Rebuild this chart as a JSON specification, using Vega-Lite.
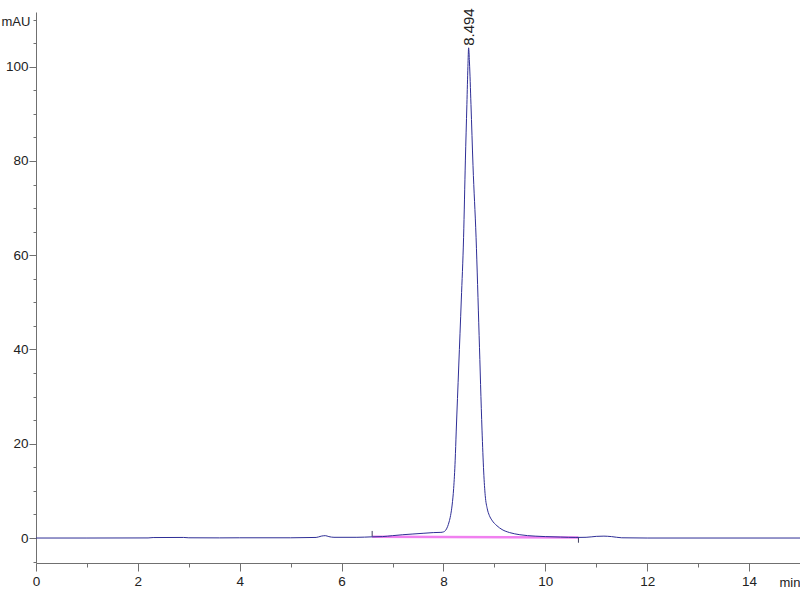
{
  "$schema": "https://vega.github.io/schema/vega-lite/v6.json",
  "width": 764,
  "height": 551,
  "autosize": "none",
  "padding": {"left": 36, "top": 12, "right": 0, "bottom": 37},
  "background": "white",
  "config": {
    "view": {"stroke": null},
    "font": "Liberation Sans, Arial",
    "axis": {
      "grid": false,
      "domainColor": "#707070",
      "tickColor": "#707070",
      "labelColor": "#222222",
      "titleColor": "#222222",
      "labelFont": "Liberation Sans, Arial",
      "titleFont": "Liberation Sans, Arial",
      "labelFontSize": 13.5,
      "titleFontSize": 13,
      "titleFontWeight": "normal"
    }
  },
  "datasets": {
    "trace": [
      {"t": 0, "v": 0}, {"t": 1, "v": 0}, {"t": 2.2, "v": 0.02}, {"t": 2.3, "v": 0.1},
      {"t": 2.9, "v": 0.12}, {"t": 3.0, "v": 0.05}, {"t": 3.6, "v": 0.03}, {"t": 4.0, "v": 0.05},
      {"t": 5.0, "v": 0.05}, {"t": 5.5, "v": 0.12}, {"t": 5.6, "v": 0.4}, {"t": 5.68, "v": 0.5},
      {"t": 5.75, "v": 0.3}, {"t": 5.85, "v": 0.15}, {"t": 6.3, "v": 0.15}, {"t": 6.6, "v": 0.25},
      {"t": 6.8, "v": 0.3}, {"t": 7.0, "v": 0.5}, {"t": 7.2, "v": 0.7}, {"t": 7.4, "v": 0.85},
      {"t": 7.6, "v": 1.0}, {"t": 7.8, "v": 1.15}, {"t": 7.95, "v": 1.2}, {"t": 8.0, "v": 1.3},
      {"t": 8.04, "v": 1.6}, {"t": 8.08, "v": 2.4}, {"t": 8.11, "v": 3.4}, {"t": 8.14, "v": 4.8},
      {"t": 8.17, "v": 7.0}, {"t": 8.2, "v": 10.5}, {"t": 8.23, "v": 16.5}, {"t": 8.25, "v": 22.5},
      {"t": 8.3, "v": 36.5}, {"t": 8.35, "v": 50.5}, {"t": 8.395, "v": 63.8}, {"t": 8.43, "v": 80},
      {"t": 8.46, "v": 92}, {"t": 8.48, "v": 100}, {"t": 8.494, "v": 104}, {"t": 8.51, "v": 101},
      {"t": 8.54, "v": 92}, {"t": 8.58, "v": 79}, {"t": 8.64, "v": 63.8}, {"t": 8.7, "v": 43},
      {"t": 8.757, "v": 22.9}, {"t": 8.79, "v": 14}, {"t": 8.82, "v": 9}, {"t": 8.86, "v": 6.2},
      {"t": 8.9, "v": 4.8}, {"t": 8.95, "v": 3.8}, {"t": 9.05, "v": 2.6}, {"t": 9.15, "v": 1.8},
      {"t": 9.3, "v": 1.15}, {"t": 9.5, "v": 0.7}, {"t": 9.8, "v": 0.4}, {"t": 10.0, "v": 0.3},
      {"t": 10.3, "v": 0.2}, {"t": 10.6, "v": 0.12}, {"t": 10.8, "v": 0.15}, {"t": 11.0, "v": 0.35},
      {"t": 11.15, "v": 0.4}, {"t": 11.3, "v": 0.3}, {"t": 11.5, "v": 0.05}, {"t": 12, "v": 0},
      {"t": 15, "v": 0}
    ],
    "baseline": [
      {"t": 6.6, "v": 0.25}, {"t": 10.65, "v": 0.1}
    ],
    "markers": [
      {"t": 6.6, "v": 0.3, "v2": 1.5},
      {"t": 10.65, "v": -1.0, "v2": 0.1}
    ],
    "peaks": [
      {"t": 8.494, "v": 104, "label": "8.494"}
    ]
  },
  "layer": [
    {
      "data": {"name": "baseline"},
      "mark": {"type": "line", "color": "#f080f0", "strokeWidth": 2.5},
      "encoding": {
        "x": {
          "field": "t", "type": "quantitative",
          "scale": {"domain": [0, 15], "nice": false, "zero": false},
          "axis": {
            "values": [0, 0.5, 1, 1.5, 2, 2.5, 3, 3.5, 4, 4.5, 5, 5.5, 6, 6.5, 7, 7.5, 8, 8.5, 9, 9.5, 10, 10.5, 11, 11.5, 12, 12.5, 13, 13.5, 14, 14.5],
            "tickCount": 200,
            "format": "d",
            "labelExpr": "datum.value % 2 === 0 ? datum.label : ''",
            "tickSize": {"condition": {"test": "datum.value % 2 === 0", "value": 8}, "value": 4},
            "labelOverlap": false,
            "labelFlush": false,
            "labelPadding": 3,
            "title": "min",
            "titleAngle": 0,
            "titleAlign": "left",
            "titleBaseline": "middle",
            "titleX": 743,
            "titleY": 19
          }
        },
        "y": {
          "field": "v", "type": "quantitative",
          "scale": {"domain": [-5.3, 111.6], "nice": false, "zero": false},
          "axis": {
            "values": [-5, 0, 5, 10, 15, 20, 25, 30, 35, 40, 45, 50, 55, 60, 65, 70, 75, 80, 85, 90, 95, 100, 105, 110],
            "tickCount": 200,
            "format": "d",
            "labelExpr": "datum.value % 20 === 0 && datum.value >= 0 ? datum.label : ''",
            "tickSize": {"condition": {"test": "datum.value % 20 === 0", "value": 7}, "value": 3},
            "labelOverlap": false,
            "labelPadding": 1,
            "title": "mAU",
            "titleAngle": 0,
            "titleAlign": "left",
            "titleBaseline": "middle",
            "titleX": -35,
            "titleY": 9
          }
        }
      }
    },
    {
      "data": {"name": "markers"},
      "mark": {"type": "rule", "color": "#404060", "strokeWidth": 1},
      "encoding": {
        "x": {"field": "t", "type": "quantitative"},
        "y": {"field": "v", "type": "quantitative"},
        "y2": {"field": "v2"}
      }
    },
    {
      "data": {"name": "trace"},
      "mark": {"type": "line", "color": "#2e2e96", "strokeWidth": 1, "interpolate": "monotone"},
      "encoding": {
        "x": {"field": "t", "type": "quantitative"},
        "y": {"field": "v", "type": "quantitative"}
      }
    },
    {
      "data": {"name": "peaks"},
      "mark": {"type": "text", "angle": 270, "align": "left", "baseline": "middle", "dx": 2, "fontSize": 15, "color": "#222222"},
      "encoding": {
        "x": {"field": "t", "type": "quantitative"},
        "y": {"field": "v", "type": "quantitative"},
        "text": {"field": "label"}
      }
    }
  ]
}
